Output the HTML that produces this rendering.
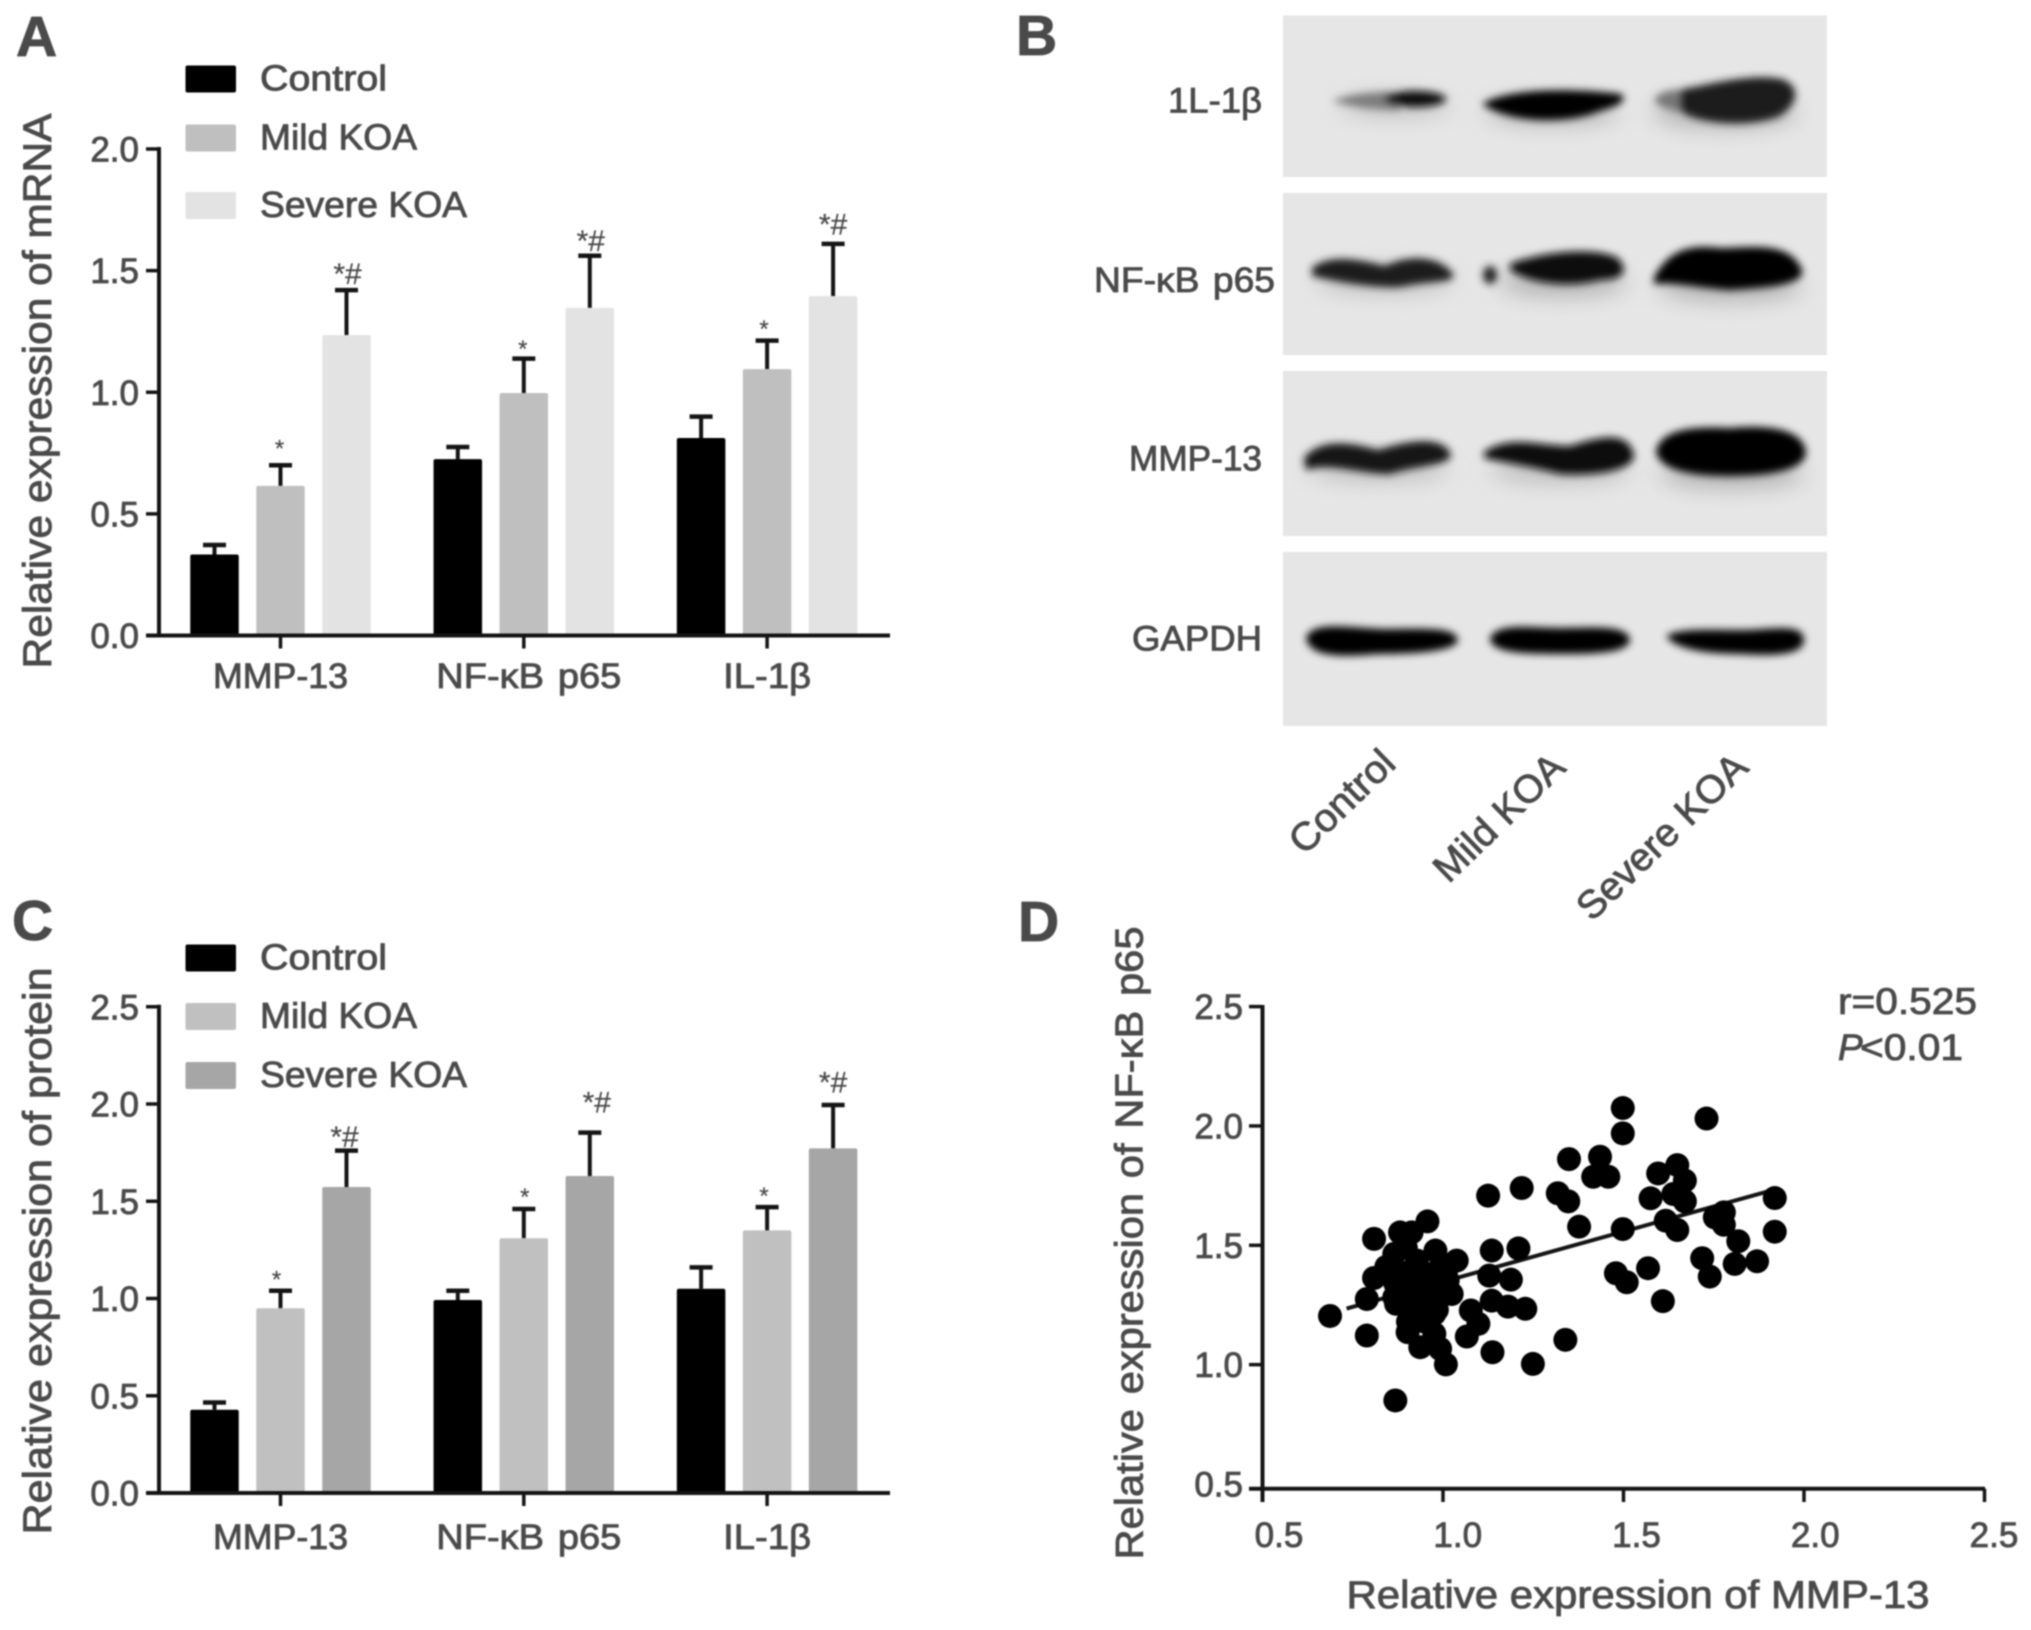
<!DOCTYPE html>
<html lang="en">
<head>
<meta charset="utf-8">
<title>Relative expression in knee osteoarthritis</title>
<style>
html,body{margin:0;padding:0;background:#fff;width:2031px;height:1630px;overflow:hidden}
svg{display:block;position:absolute;left:0;top:0}
text{font-family:"Liberation Sans","DejaVu Sans",sans-serif;fill:#4a4a4a;stroke:#4a4a4a;stroke-width:.85px}
#figure{filter:blur(.7px)}
</style>
</head>
<body>
<svg id="figure" xmlns="http://www.w3.org/2000/svg" width="2031" height="1630" viewBox="0 0 2031 1630">
  <defs>
    <filter id="band-blur" x="-30%" y="-100%" width="160%" height="300%"><feGaussianBlur stdDeviation="4"/></filter>
    <filter id="halo-blur" x="-30%" y="-150%" width="160%" height="400%"><feGaussianBlur stdDeviation="11"/></filter>
  </defs>
  <g id="panel-a"></g>
  <g id="panel-b">
    <rect x="1283" y="15.5" width="544" height="161.5" fill="#e6e6e6"/>
    <rect x="1283" y="193" width="544" height="162" fill="#e6e6e6"/>
    <rect x="1283" y="371" width="544" height="165" fill="#e6e6e6"/>
    <rect x="1283" y="552" width="544" height="174" fill="#e6e6e6"/>
    <g filter="url(#halo-blur)" opacity=".55">
      <ellipse cx="1395" cy="106" rx="56" ry="9" fill="#999"/>
      <ellipse cx="1552" cy="112" rx="66" ry="12" fill="#888"/>
      <ellipse cx="1725" cy="112" rx="72" ry="16" fill="#888"/>
      <ellipse cx="1384" cy="280" rx="68" ry="12" fill="#999"/>
      <ellipse cx="1562" cy="282" rx="64" ry="14" fill="#888"/>
      <ellipse cx="1730" cy="286" rx="72" ry="15" fill="#888"/>
      <ellipse cx="1378" cy="468" rx="70" ry="12" fill="#999"/>
      <ellipse cx="1560" cy="470" rx="70" ry="12" fill="#999"/>
      <ellipse cx="1732" cy="474" rx="72" ry="14" fill="#888"/>
    </g>
    <g filter="url(#band-blur)">
      <path d="M1332 101C1355 92 1385 92 1400 92L1400 110C1380 110 1355 108 1332 101Z" fill="#7d7d7d"/>
      <ellipse cx="1415" cy="99" rx="31" ry="8" fill="#111"/>
      <path d="M1482 104C1505 90 1560 87 1621 94C1628 100 1620 106 1600 111C1570 124 1510 124 1482 104Z" fill="#000"/>
      <path d="M1666 92C1700 88 1745 72 1782 79C1800 86 1800 102 1780 116C1750 128 1700 124 1682 112C1672 106 1664 100 1666 92Z" fill="#1f1f1f"/>
      <path d="M1654 100C1660 92 1668 90 1680 90L1680 112C1668 110 1658 106 1654 100Z" fill="#777"/>
      <path d="M1312 268C1330 253 1360 260 1385 266C1410 254 1440 256 1453 274C1456 284 1430 280 1400 287C1370 288 1340 282 1312 276Z" fill="#1e1e1e"/>
      <ellipse cx="1490" cy="275" rx="7" ry="9" fill="#222"/>
      <path d="M1510 264C1540 252 1595 246 1618 258C1630 272 1622 280 1600 280C1570 288 1530 284 1510 270Z" fill="#080808"/>
      <path d="M1654 278C1668 250 1690 244 1720 248C1750 248 1790 240 1802 270C1806 286 1760 288 1730 290C1700 288 1676 282 1654 284Z" fill="#000"/>
      <path d="M1304 458C1320 438 1350 442 1378 450C1410 440 1440 436 1450 452C1456 466 1420 464 1390 474C1360 474 1330 462 1306 470Z" fill="#151515"/>
      <path d="M1484 452C1510 434 1540 446 1570 446C1600 436 1630 430 1634 456C1632 472 1590 476 1560 474C1530 466 1500 462 1484 458Z" fill="#111"/>
      <path d="M1656 452C1660 430 1690 426 1730 428C1770 424 1804 430 1806 452C1806 470 1770 476 1730 476C1690 476 1660 470 1656 452Z" fill="#000"/>
      <path d="M1306 638C1312 620 1350 628 1385 629C1420 629 1456 626 1458 640C1456 652 1410 654 1380 654C1350 656 1310 660 1306 638Z" fill="#000"/>
      <path d="M1490 638C1498 622 1530 628 1560 628C1590 628 1628 624 1630 640C1628 654 1590 654 1560 654C1530 654 1490 654 1490 638Z" fill="#000"/>
      <path d="M1666 636C1680 628 1710 630 1740 630C1770 630 1804 622 1804 640C1804 656 1770 656 1740 654C1710 654 1676 650 1666 636Z" fill="#000"/>
    </g>
  </g>
  <g id="panel-c"></g>
  <g id="panel-d"></g>
</svg>
<script>
// ---- Shared bar chart data ----
const categories = ["MMP-13", "NF-\u03BAB p65", "IL-1\u03B2"];
const seriesNames = ["Control", "Mild KOA", "Severe KOA"];

// ---- Panel A: mRNA ----
const mrnaTicks = ["0.0", "0.5", "1.0", "1.5", "2.0"];
const mrnaControl = [0.333, 0.725, 0.812];
const mrnaMild = [0.615, 0.997, 1.095];
const mrnaSevere = [1.235, 1.347, 1.395];
const mrnaControlTop = [0.372, 0.775, 0.90];
const mrnaMildTop = [0.70, 1.138, 1.212];
const mrnaSevereTop = [1.42, 1.561, 1.61];

// ---- Panel C: protein ----
const proteinTicks = ["0.0", "0.5", "1.0", "1.5", "2.0", "2.5"];
const proteinControl = [0.428, 0.992, 1.05];
const proteinMild = [0.95, 1.31, 1.35];
const proteinSevere = [1.573, 1.63, 1.772];
const proteinControlTop = [0.465, 1.04, 1.16];
const proteinMildTop = [1.04, 1.46, 1.47];
const proteinSevereTop = [1.76, 1.853, 1.995];

// ---- Panel D: scatter ----
const scatterTicks = ["0.5", "1.0", "1.5", "2.0", "2.5"];
const mmp13Values = [0.687,0.789,0.789,0.809,0.809,0.868,0.881,0.913,0.957,0.979,1.038,0.865,0.897,0.928,0.865,0.907,0.971,1.013,0.865,0.918,0.992,1.024,0.87,0.928,0.976,0.902,0.943,0.937,0.976,0.992,1.008,0.903,0.993,0.953,0.893,0.843,1.013,0.983,0.943,0.868,0.908,0.973,0.88,0.93,0.96,0.9,0.95,1.0,1.077,1.098,1.066,1.137,1.249,1.339,1.125,1.218,1.135,1.209,1.128,1.188,1.135,1.18,1.228,1.318,1.347,1.377,1.349,1.435,1.416,1.458,1.498,1.498,1.498,1.479,1.509,1.568,1.609,1.596,1.649,1.67,1.575,1.638,1.67,1.617,1.649,1.73,1.753,1.778,1.778,1.818,1.718,1.739,1.808,1.87,1.919,1.919];
const nfkbValues = [1.204,1.275,1.122,1.527,1.363,0.85,1.554,1.554,1.6,1.478,1.436,1.464,1.49,1.436,1.38,1.352,1.38,1.352,1.282,1.296,1.296,1.296,1.255,1.227,1.213,1.136,1.21,1.073,1.129,1.066,1.001,1.18,1.41,1.29,1.29,1.41,1.41,1.23,1.36,1.34,1.39,1.31,1.33,1.27,1.25,1.24,1.18,1.34,1.227,1.171,1.118,1.052,1.003,1.104,1.708,1.74,1.478,1.487,1.373,1.356,1.268,1.243,1.234,1.718,1.684,1.578,1.861,1.871,1.787,1.787,2.075,1.969,1.568,1.383,1.345,1.404,1.266,1.801,1.836,1.771,1.697,1.715,1.684,1.603,1.564,2.031,1.617,1.638,1.586,1.517,1.446,1.369,1.422,1.433,1.698,1.557];
const fitX = [0.733, 1.91];
const fitY = [1.235, 1.73];

const SVGNS = "http://www.w3.org/2000/svg";

function make(tag, parent, attrs) {
  const el = document.createElementNS(SVGNS, tag);
  for (const k in attrs) el.setAttribute(k, attrs[k]);
  parent.appendChild(el);
  return el;
}

function label(parent, str, x, y, size, opts) {
  opts = opts || {};
  const el = make("text", parent, {
    x: x, y: y,
    "font-size": size,
    "text-anchor": opts.anchor || "start"
  });
  if (opts.len) {
    el.setAttribute("textLength", opts.len);
    el.setAttribute("lengthAdjust", "spacingAndGlyphs");
  }
  if (opts.rot) el.setAttribute("transform", "rotate(" + opts.rot + " " + x + " " + y + ")");
  if (opts.italic) el.setAttribute("font-style", "italic");
  if (opts.weight) el.setAttribute("font-weight", opts.weight);
  if (opts.wordSpacing) el.style.wordSpacing = opts.wordSpacing + "px";
  el.textContent = str;
  return el;
}

function line(parent, x1, y1, x2, y2, w) {
  return make("line", parent, { x1: x1, y1: y1, x2: x2, y2: y2, stroke: "#141414", "stroke-width": w });
}

function drawBarPanel(cfg) {
  const root = document.getElementById(cfg.id);
  const yOf = v => cfg.y0 - v * cfg.unit;
  const groupX = i => 280.5 + i * 243.3;
  const barX = (i, j) => groupX(i) + (j - 1) * 66;
  const barW = 48.5;

  const letter = label(root, cfg.letter, cfg.letterX, cfg.letterY, 57, { weight: "bold" });
  
  

  seriesNames.forEach((name, j) => {
    const sw = make("rect", root, { x: 185.5, y: cfg.legendY[j] - 13.5, width: 50.5, height: 27, rx: 2, fill: cfg.colors[j] });
    
    
    const t = label(root, name, 260, cfg.legendY[j] + 11.5, 36, { len: [127, 157, 207][j] });
    
    
  });

  cfg.series.forEach((vals, j) => {
    vals.forEach((v, i) => {
      const cx = barX(i, j);
      const stem = line(root, cx, yOf(v), cx, yOf(cfg.tops[j][i]), 4);
      
      
      const cap = line(root, cx - 11.5, yOf(cfg.tops[j][i]), cx + 11.5, yOf(cfg.tops[j][i]), 4.5);
      
      
      const bar = make("rect", root, { x: cx - barW / 2, y: yOf(v), width: barW, height: cfg.y0 - yOf(v), rx: 2, fill: cfg.colors[j] });
      
      
      if (j > 0) {
        const single = j === 1;
        const lift = cfg.markLift[j - 1][i];
        const dx = cfg.markDx[j - 1][i];
        const my = yOf(cfg.tops[j][i]) - lift + (single ? 13 : 10.5);
        const mark = label(root, single ? "*" : "*#", cx + dx, my, single ? 24 : 30, { anchor: "middle" });
        
        
        mark.style.strokeWidth = "0.2px";
      }
    });
  });

  const topTick = parseFloat(cfg.ticks[cfg.ticks.length - 1]);
  const yAxis = line(root, 159, cfg.y0 + 2, 159, yOf(topTick) - 2, 4);
  
  
  const xAxis = line(root, 146, cfg.y0, 890, cfg.y0, 4);
  
  

  cfg.ticks.forEach(t => {
    const v = parseFloat(t);
    const mark = line(root, 146, yOf(v), 159, yOf(v), 3.5);
    
    
    const tl = label(root, t, 139, yOf(v) + 12.5, 35, { anchor: "end" });
    
    
  });

  categories.forEach((c, i) => {
    const tick = line(root, groupX(i), cfg.y0, groupX(i), cfg.y0 + 13, 3.5);
    
    
    const tl = label(root, c, groupX(i) + [0, 5, 0][i], cfg.xLabelY, 35, { anchor: "middle", len: [135, 185, 88][i], wordSpacing: 3 });
    
    
  });

  const title = label(root, cfg.title, 51, cfg.titleY, 40, { anchor: "middle", rot: -90, len: cfg.titleLen });
  
  
}

drawBarPanel({
  id: "panel-a", letter: "A", letterX: 16, letterY: 56,
  y0: 635.5, unit: 243.25, ticks: mrnaTicks, xLabelY: 688,
  colors: ["#000000", "#bfbfbf", "#e3e3e3"],
  legendY: [79, 138, 205.5],
  series: [mrnaControl, mrnaMild, mrnaSevere],
  tops: [mrnaControlTop, mrnaMildTop, mrnaSevereTop],
  markLift: [[21.5, 14.5, 16.5], [16.5, 15.5, 20]],
  markDx: [[-1, -1, -3], [1, 1, 0]],
  title: "Relative expression of mRNA", titleY: 391, titleLen: 555
});

drawBarPanel({
  id: "panel-c", letter: "C", letterX: 12, letterY: 940,
  y0: 1493, unit: 194.5, ticks: proteinTicks, xLabelY: 1549,
  colors: ["#000000", "#c0c0c0", "#a6a6a6"],
  legendY: [958, 1016.5, 1075.5],
  series: [proteinControl, proteinMild, proteinSevere],
  tops: [proteinControlTop, proteinMildTop, proteinSevereTop],
  markLift: [[16, 17, 16], [14, 30.5, 23]],
  markDx: [[-4, 1, -3], [-2, 7, 0]],
  title: "Relative expression of protein", titleY: 1251, titleLen: 567
});

// ---- Panel B labels ----
(function () {
  const root = document.getElementById("panel-b");
  const letter = label(root, "B", 1016, 55, 57, { weight: "bold" });
  
  

  const blotNames = ["1L-1\u03B2", "NF-\u03BAB p65", "MMP-13", "GAPDH"];
  const blotRight = [1262, 1275, 1262, 1262];
  const blotY = [100, 279.5, 458, 638];
  const blotLen = [94, 181, 133, 130];
  blotNames.forEach((n, i) => {
    const t = label(root, n, blotRight[i], blotY[i] + 12.5, 35, { anchor: "end", len: blotLen[i], wordSpacing: 3 });
    
    
  });

  const laneCenters = [[1351, 811], [1508, 827], [1671, 846]];
  const laneLen = [130, 165, 220];
  seriesNames.forEach((n, i) => {
    const t = label(root, n, laneCenters[i][0], laneCenters[i][1], 39, { anchor: "middle", rot: -44, len: laneLen[i] });
    
    
  });
})();

// ---- Panel D ----
(function () {
  const root = document.getElementById("panel-d");
  const xOf = v => 1262.5 + (v - 0.5) * 361;
  const yOf = v => 1484 - (v - 0.5) * 238.7;

  const letter = label(root, "D", 1018, 941, 57, { weight: "bold" });
  
  

  const fit = line(root, xOf(fitX[0]), yOf(fitY[0]), xOf(fitX[1]), yOf(fitY[1]), 4);
  
  

  mmp13Values.forEach((v, i) => {
    const dot = make("circle", root, { cx: xOf(v), cy: yOf(nfkbValues[i]), r: 12, fill: "#000" });
    
    
  });

  const yAxis = line(root, 1262.5, 1005, 1262.5, 1502, 4);
  
  
  const xAxis = line(root, 1249, 1488.7, 1985, 1488.7, 4);
  
  

  scatterTicks.forEach(t => {
    const v = parseFloat(t);
    if (v > 0.5) {
      const ym = line(root, 1249, yOf(v), 1262, yOf(v), 3.5);
      
      
    }
    const yl = label(root, t, 1243, yOf(v) + 12.5, 35, { anchor: "end" });
    
    
    if (v > 0.5) {
      const xm = line(root, xOf(v), 1488.7, xOf(v), 1502, 3.5);
      
      
    }
    const xl = label(root, t, 1279 + (v - 0.5) * 357.5, 1547, 35, { anchor: "middle" });
    
    
  });

  const yTitle = label(root, "Relative expression of NF-\u03BAB p65", 1142.5, 1243, 39, { anchor: "middle", rot: -90, len: 633, wordSpacing: 3 });
  
  
  const xTitle = label(root, "Relative expression of MMP-13", 1638, 1608, 38.5, { anchor: "middle", len: 583 });
  
  

  const r = label(root, "r=0.525", 1838, 1014, 37, { len: 139 });
  
  
  const p = label(root, "<0.01", 1860, 1060, 37, { len: 103 });
  
  
  const pi = label(root, "P", 1838, 1060, 37, { italic: true });
  
  
})();
</script>
</body>
</html>
